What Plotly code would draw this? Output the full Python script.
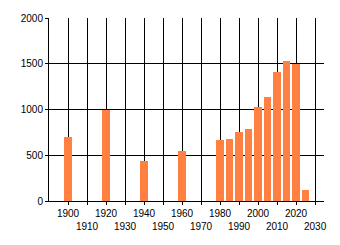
import plotly.graph_objects as go

years = [1900, 1920, 1940, 1960, 1980, 1985, 1990, 1995, 2000, 2005, 2010, 2015, 2020, 2025]
values = [700, 1000, 440, 550, 665, 680, 750, 790, 1030, 1140, 1410, 1525, 1500, 120]

tick_years = list(range(1900, 2031, 10))
row1 = [str(y) if (y - 1900) % 20 == 0 else "" for y in tick_years]
row2_years = [y for y in tick_years if (y - 1900) % 20 == 10]
row2_text = [str(y) for y in row2_years]
y_ticks = [0, 500, 1000, 1500, 2000]

font = dict(family="Liberation Sans, Arial, sans-serif", size=10, color="black")
xr = [1890, 2034.7]

fig = go.Figure()
fig.add_trace(go.Bar(x=years, y=values, width=4, marker=dict(color="#FF8040", line=dict(width=0))))
fig.add_trace(go.Scatter(x=[row2_years[0]], y=[0], xaxis="x2", mode="markers",
                         marker=dict(opacity=0), showlegend=False, hoverinfo="skip"))

fig.update_layout(
    width=340, height=245,
    margin=dict(l=49, r=16, t=15, b=44),
    paper_bgcolor="white", plot_bgcolor="white",
    showlegend=False, font=font, bargap=0,
    xaxis=dict(range=xr, tickmode="array", tickvals=tick_years, ticktext=row1,
               showgrid=True, gridcolor="black", gridwidth=1,
               showline=True, linecolor="black", linewidth=1,
               ticks="outside", ticklen=3, tickcolor="black", tickfont=font,
               zeroline=False, fixedrange=True),
    xaxis2=dict(range=xr, overlaying="x", anchor="y", side="bottom",
                tickmode="array", tickvals=row2_years, ticktext=row2_text,
                showgrid=False, showline=False, ticks="", tickfont=font,
                ticklabelstandoff=18, zeroline=False),
    yaxis=dict(range=[0, 2000], tickmode="array", tickvals=y_ticks,
               showgrid=True, gridcolor="black", gridwidth=1,
               showline=True, linecolor="black", linewidth=1,
               ticks="outside", ticklen=3, tickcolor="black", tickfont=font,
               zeroline=False),
)

fig.write_html("out.html")
